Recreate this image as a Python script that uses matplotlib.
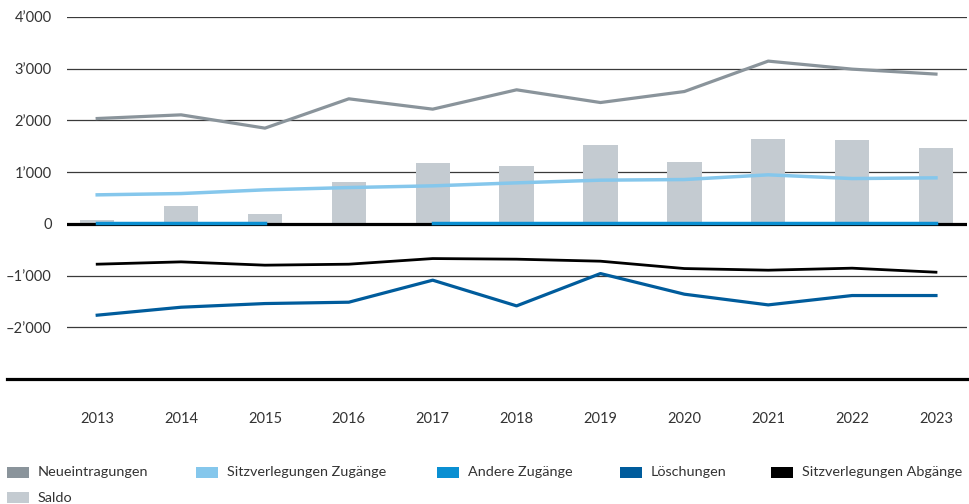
import numpy as np
import matplotlib
matplotlib.use("Agg")
import matplotlib.pyplot as plt
from matplotlib.lines import Line2D
from matplotlib.patches import Rectangle
from matplotlib.ticker import FuncFormatter

plt.rcParams["font.family"] = ["Lato", "DejaVu Sans"]

# data
years = ["2013", "2014", "2015", "2016", "2017", "2018", "2019", "2020", "2021", "2022", "2023"]
neueintragungen = [2037, 2108, 1851, 2418, 2218, 2592, 2346, 2559, 3147, 2992, 2896]
sitz_zugaenge = [561, 586, 658, 702, 735, 793, 845, 857, 948, 876, 890]
andere_zugaenge = [10, 10, 10, np.nan, 10, 10, 10, 10, 10, 10, 10]
loeschungen = [-1766, -1612, -1541, -1515, -1089, -1586, -961, -1360, -1567, -1386, -1386]
sitz_abgaenge = [-780, -735, -799, -780, -671, -683, -722, -864, -896, -857, -935]
saldo = [80, 350, 195, 815, 1180, 1125, 1530, 1200, 1650, 1630, 1475]

c_neu = "#8a949b"
c_sz = "#85c7ec"
c_az = "#0a8fd2"
c_loe = "#005c9c"
c_sa = "#000000"
c_saldo = "#c4cbd1"

W, H = 969, 504
fig = plt.figure(figsize=(W / 100, H / 100), dpi=100)
ax = fig.add_axes([67 / W, 1 - 379 / H, 900 / W, 362 / H])

x = np.arange(len(years))

# grid lines (behind bars)
for v in [4000, 3000, 2000, 1000, -1000, -2000]:
    ax.axhline(v, color="#3a3a3a", lw=0.9, zorder=1)

ax.bar(x, saldo, width=0.41, color=c_saldo, zorder=2)
ax.axhline(0, color="black", lw=2.3, zorder=3)

ax.plot(x, neueintragungen, color=c_neu, lw=2.3, zorder=4)
ax.plot(x, sitz_zugaenge, color=c_sz, lw=2.5, zorder=4)
ax.plot(x, andere_zugaenge, color=c_az, lw=2.5, zorder=4)
ax.plot(x, loeschungen, color=c_loe, lw=2.3, zorder=4)
ax.plot(x, sitz_abgaenge, color=c_sa, lw=2.0, zorder=4)

ax.set_xlim(-0.36, 10.37)
ax.set_ylim(-3000, 4000)
ax.set_xticks(x)
ax.set_xticklabels(years)
ax.set_yticks([4000, 3000, 2000, 1000, 0, -1000, -2000])


def fmt(v, pos):
    s = f"{abs(v):,.0f}".replace(",", "\u2019")
    return ("\u2013" + s) if v < 0 else s


ax.yaxis.set_major_formatter(FuncFormatter(fmt))
ax.tick_params(axis="both", length=0, labelsize=10.5, colors="#333333")
ax.tick_params(axis="y", pad=11)
ax.tick_params(axis="x", pad=24)
for s in ax.spines.values():
    s.set_visible(False)

# heavy base line, extends further left than the plot area
fig.add_artist(Line2D([7 / W, 967 / W], [1 - 379 / H] * 2, color="black", lw=2.3))

# legend drawn by hand: (label, colour, patch left px, row centre px)
legend_items = [
    ("Neueintragungen", c_neu, 7, 472),
    ("Sitzverlegungen Zugänge", c_sz, 196, 472),
    ("Andere Zugänge", c_az, 437, 472),
    ("Löschungen", c_loe, 620, 472),
    ("Sitzverlegungen Abgänge", c_sa, 771, 472),
    ("Saldo", c_saldo, 7, 497.5),
]
for label, col, px, py in legend_items:
    fig.add_artist(Rectangle((px / W, 1 - (py + 5.5) / H), 22 / W, 11 / H,
                             transform=fig.transFigure, color=col, lw=0))
    fig.text((px + 31) / W, 1 - py / H, label, ha="left", va="center",
             fontsize=10.4, color="#333333")

fig.savefig("out.png", dpi=100)
